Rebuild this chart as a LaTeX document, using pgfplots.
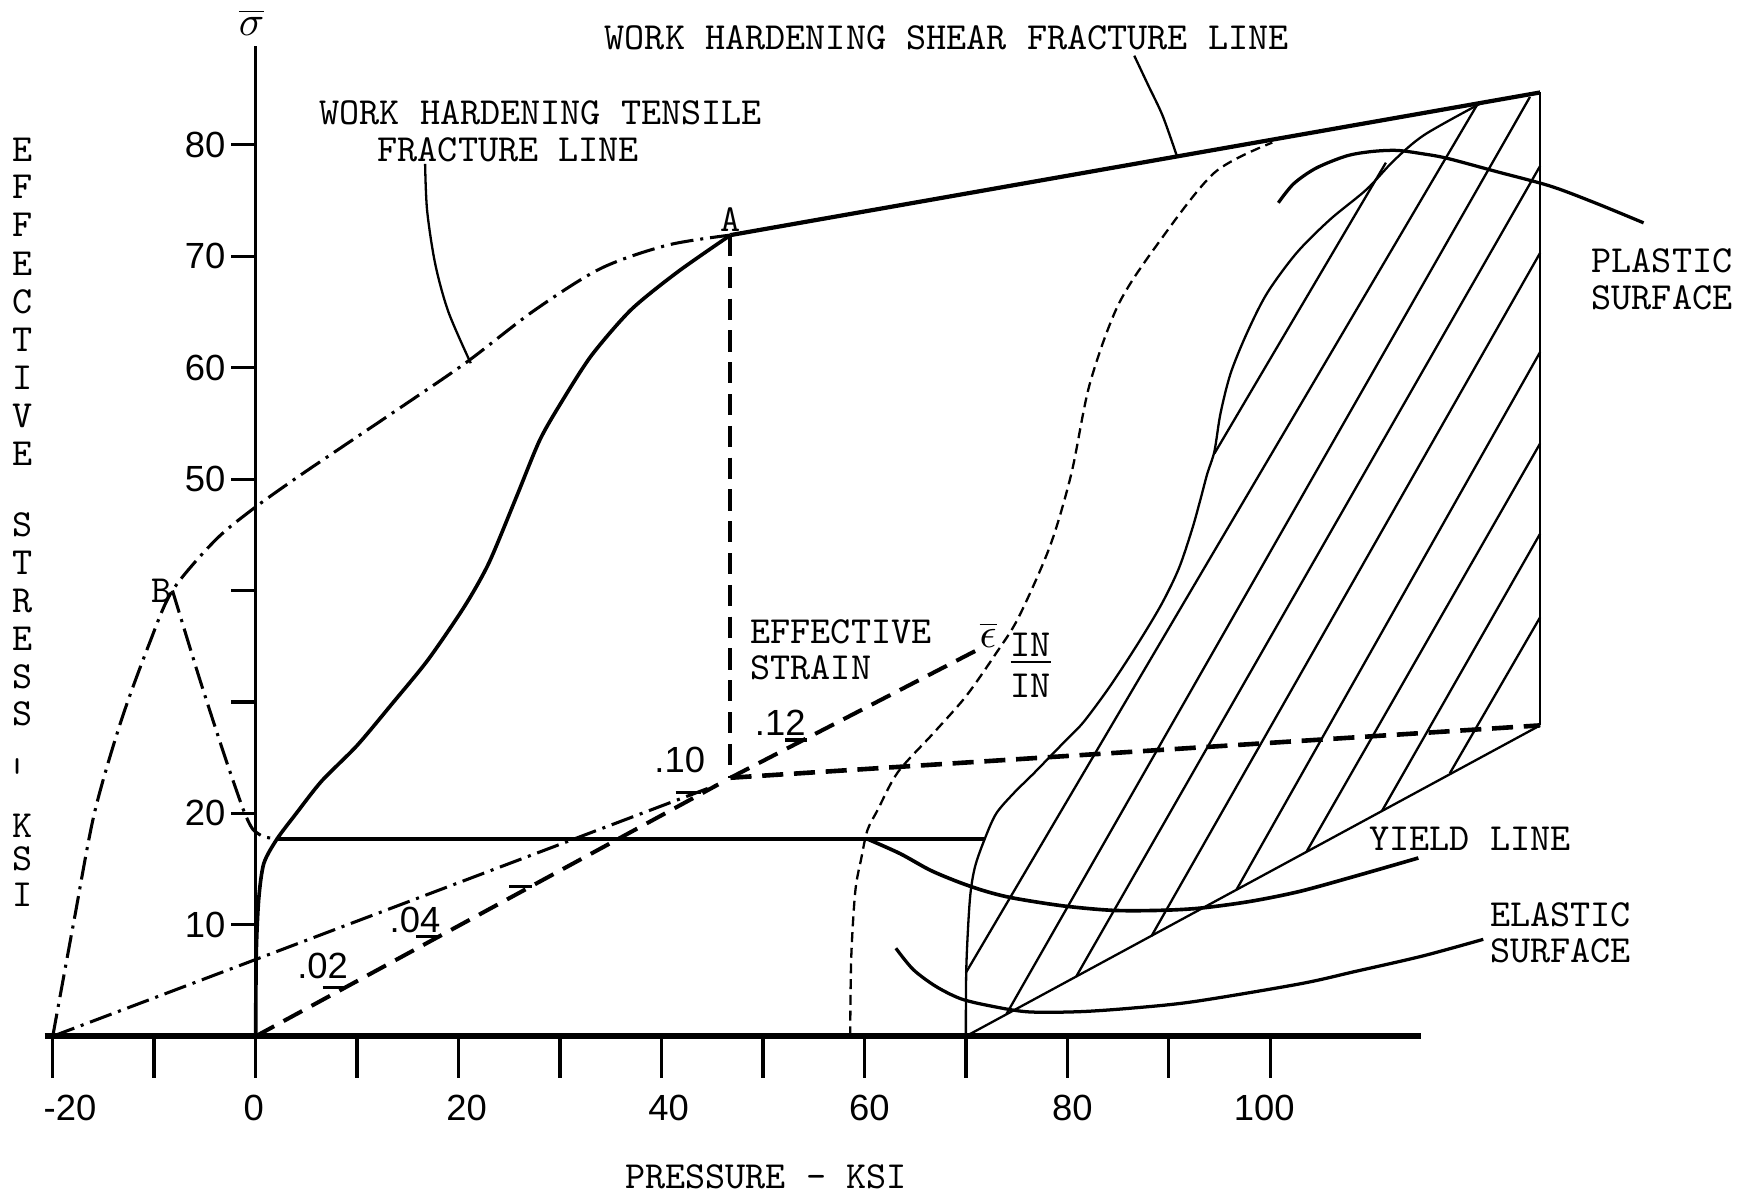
\documentclass[border=0pt]{standalone}
\usepackage{pgfplots}
\pgfplotsset{compat=1.18}
\usepackage{fontspec}
\newfontfamily\lsans{Liberation Sans}
\tikzset{
  thickline/.style={line width=0.95pt},
  thinline/.style={line width=0.6pt},
  longdash/.style={line width=1.05pt, dash pattern=on 5.5pt off 2.8pt},
  shortdash/.style={line width=0.6pt, dash pattern=on 2.6pt off 1.5pt},
  dashdot/.style={line width=0.8pt, dash pattern=on 6pt off 1.8pt on 0.8pt off 1.8pt},
  tw/.style={font=\ttfamily\fontsize{10}{10.6}\selectfont, inner sep=0pt},
  nums/.style={font=\lsans\fontsize{9.5}{11}\selectfont, inner sep=0pt},
}
\begin{document}
\begin{tikzpicture}
\begin{axis}[
  width=16cm, height=10.959cm, scale only axis,
  xmin=-25.2, xmax=146.7, ymin=-14.2, ymax=93,
  hide axis, clip=false,
  every axis plot/.append style={black, no markers},
]
% extent
\addplot[draw=none, forget plot] coordinates {(-25.2,-14.2) (146.7,93)};

% baseline and y axis
\addplot[line width=1.6pt] coordinates {(-20.8,0) (114.9,0)};
\addplot[line width=0.8pt] coordinates {(0,0) (0,88.9)};
\pgfplotsinvokeforeach{-20,-10,0,10,20,30,40,50,60,70,80,90,100}{
  \addplot[line width=0.9pt] coordinates {(#1,0) (#1,-3.7)};
}
\pgfplotsinvokeforeach{10,20,30,40,50,60,70,80}{
  \addplot[line width=0.8pt] coordinates {(-2.4,#1) (0,#1)};
}

% hatch lines
\addplot[thinline] coordinates {(70,5.7) (120.4,83.6)};
\addplot[thinline] coordinates {(74,2.0) (125.6,84.3)};
\addplot[thinline] coordinates {(80.9,5.4) (126.6,78.1)};
\addplot[thinline] coordinates {(88.3,9.0) (126.6,70.3)};
\addplot[thinline] coordinates {(96.7,13.2) (126.6,61.4)};
\addplot[thinline] coordinates {(103.6,16.6) (126.6,53.2)};
\addplot[thinline] coordinates {(111.0,20.2) (126.6,45.1)};
\addplot[thinline] coordinates {(117.7,23.6) (126.6,37.6)};
\addplot[thinline] coordinates {(94.5,52.3) (111.4,78.4)};

% lower boundary of hatched region and right vertical
\addplot[thinline] coordinates {(70,0) (126.6,27.9)};
\addplot[thinline] coordinates {(126.6,27.9) (126.6,84.7)};

% S-curve (left boundary of hatched region)
\addplot[thinline, smooth, tension=0.5] coordinates {
 (70,0) (70.05,6.3) (70.4,12.3) (70.9,15.2) (71.9,17.8) (73.0,20.0) (74.7,21.8)
 (76.7,23.6) (78.3,25.1) (79.9,26.6) (81.6,28.2) (84.2,31.4) (87.0,35.3) (89.3,38.8)
 (91.0,42.0) (92.3,45.5) (93.1,48.1) (93.8,50.5) (94.5,52.5) (95.1,55.9) (96.1,59.5)
 (97.7,63.1) (99.7,66.7) (102.6,70.3) (105.9,73.3) (109.5,76.0) (112.2,78.6)
 (115.2,80.9) (120.7,83.7)};

% dashed S-curve
\addplot[shortdash, smooth, tension=0.5] coordinates {
 (58.6,0) (58.7,7) (59.1,13) (59.7,16) (60.3,18.5) (61.3,20.3) (63.3,23.7) (66.8,27.2)
 (70,30.5) (73,34.4) (75.2,37.6) (78.3,44) (80.4,50.5) (82.2,58.5) (85.0,65.6)
 (88.9,71.1) (94.5,77.5) (100.2,80.2)};

% shear fracture line
\addplot[line width=1.1pt] coordinates {(46.8,71.9) (126.6,84.7)};

% long dashed lines
\addplot[longdash] coordinates {(46.8,71.9) (46.8,23.2)};
\addplot[longdash, line width=1.2pt] coordinates {(46.8,23.2) (126.6,27.9)};
\addplot[longdash] coordinates {(0,0) (45.6,22.6)};
\addplot[longdash] coordinates {(46.8,23.2) (71.4,34.8)};

% strain ticks
\addplot[line width=0.9pt] coordinates {(6.6,4.4) (8.8,4.4)};
\addplot[line width=0.9pt] coordinates {(15.8,8.95) (18.1,8.95)};
\addplot[line width=0.9pt] coordinates {(25,13.45) (27.2,13.45)};
\addplot[line width=0.9pt] coordinates {(41.4,21.9) (43.9,21.9)};
\addplot[line width=0.9pt] coordinates {(52.2,26.6) (54.3,26.6)};

% dash-dot lines
\addplot[dashdot] coordinates {(-20,0) (45.6,22.6)};
\addplot[dashdot, smooth, tension=0.5] coordinates {
 (-20,0) (-17.9,10.4) (-15.9,20) (-13.3,28.2) (-10.5,35.2) (-8.2,40) (-4,44.5)
 (-0.3,47.3) (4,50.1) (8.7,53.0) (14.4,56.5) (20.8,60.5) (27.4,65.1) (34,68.9)
 (40.6,71.0) (46.8,71.9)};
\addplot[dashdot, smooth, tension=0.4] coordinates {
 (-8.2,40) (-5.5,32) (-3,25) (-1.2,20.3) (-0.3,18.6) (0.8,17.9) (2,17.75)};

% horizontal line
\addplot[thickline] coordinates {(2.1,17.7) (71.9,17.7)};

% flow curve
\addplot[thickline, smooth, tension=0.45] coordinates {
 (0,0) (0.06,7.5) (0.3,12.3) (0.8,15.5) (2.1,17.7) (4,20) (6.5,22.9) (10,26.1)
 (13.5,29.9) (17,33.8) (20.6,38.6) (23,42.5) (25.7,48.4) (28,53.5) (30.2,57)
 (33.1,61.1) (37,65.2) (41.6,68.6) (46.8,71.9)};

% yield curve
\addplot[thickline, smooth, tension=0.5] coordinates {
 (60.3,17.7) (63.5,16.4) (66.5,14.9) (69.4,13.8) (72,13.0) (74.7,12.4) (79.6,11.7)
 (84.5,11.3) (89.1,11.3) (93.1,11.5) (98,12.1) (102.9,13.0) (108.5,14.4) (114.6,16.0)};

% elastic surface curve
\addplot[line width=0.85pt, smooth, tension=0.5] coordinates {
 (63.1,7.9) (64.8,6.0) (67,4.5) (69.4,3.4) (72,2.8) (76,2.2) (81,2.2) (86,2.5)
 (92.4,3.1) (102.9,4.7) (108.3,5.8) (115,7.2) (121,8.7)};

% plastic surface arc and leader
\addplot[line width=0.85pt, smooth, tension=0.5] coordinates {
 (100.8,74.8) (102.3,76.5) (104.5,77.9) (107.5,79.0) (110,79.4) (112.5,79.5)
 (115,79.2) (117.4,78.8) (122.3,77.6) (127.6,76.3) (132,74.8) (136.8,73.0)};

% leaders
\addplot[thinline, smooth] coordinates {(86.6,88.0) (88.0,85.3) (89.4,82.6) (90.8,79.0)};
\addplot[thinline, smooth] coordinates {(16.7,78.3) (16.9,74.1) (17.7,69.3) (19.0,65.0) (21.2,60.4)};

% ---- text ----
\node[font=\fontsize{11}{11}\selectfont, inner sep=0pt] at (axis cs:-0.4,91.0) {$\overline{\sigma}$};
\node[nums, anchor=east] at (axis cs:-2.9,80) {80};
\node[nums, anchor=east] at (axis cs:-2.9,70) {70};
\node[nums, anchor=east] at (axis cs:-2.9,60) {60};
\node[nums, anchor=east] at (axis cs:-2.9,50) {50};
\node[nums, anchor=east] at (axis cs:-2.9,20) {20};
\node[nums, anchor=east] at (axis cs:-2.9,10) {10};

\node[nums] at (axis cs:-18.3,-6.4) {-20};
\node[nums] at (axis cs:-0.2,-6.4) {0};
\node[nums] at (axis cs:20.8,-6.4) {20};
\node[nums] at (axis cs:40.7,-6.4) {40};
\node[nums] at (axis cs:60.5,-6.4) {60};
\node[nums] at (axis cs:80.5,-6.4) {80};
\node[nums] at (axis cs:99.4,-6.4) {100};

\node[nums] at (axis cs:6.6,6.3) {.02};
\node[nums] at (axis cs:15.7,10.4) {.04};
\node[nums] at (axis cs:41.8,24.8) {.10};
\node[nums] at (axis cs:51.7,28.1) {.12};

\node[tw] at (axis cs:50.3,-12.6) {PRESSURE - KSI};
\node[tw] at (axis cs:68.1,89.6) {WORK HARDENING SHEAR FRACTURE LINE};
\node[tw] at (axis cs:28.1,82.9) {WORK HARDENING TENSILE};
\node[tw] at (axis cs:24.9,79.6) {FRACTURE LINE};
\node[tw, anchor=base] at (axis cs:46.8,72.2) {A};
\node[tw] at (axis cs:-9.3,40.0) {B};
\node[tw, anchor=west] at (axis cs:48.7,36.3) {EFFECTIVE};
\node[tw, anchor=west] at (axis cs:48.7,33.1) {STRAIN};
\node[font=\fontsize{11}{11}\selectfont, inner sep=0pt] at (axis cs:72.2,36.0) {$\overline{\epsilon}$};
\node[tw, align=center] at (axis cs:76.4,33.3) {\underline{IN}\\IN};
\node[tw, anchor=west] at (axis cs:131.6,69.6) {PLASTIC};
\node[tw, anchor=west] at (axis cs:131.6,66.3) {SURFACE};
\node[tw, anchor=west] at (axis cs:109.7,17.7) {YIELD LINE};
\node[tw, anchor=west] at (axis cs:121.6,10.9) {ELASTIC};
\node[tw, anchor=west] at (axis cs:121.6,7.65) {SURFACE};

% vertical axis title
\node[tw] at (axis cs:-23.0,79.6) {E};
\node[tw] at (axis cs:-23.0,76.2) {F};
\node[tw] at (axis cs:-23.0,72.8) {F};
\node[tw] at (axis cs:-23.0,69.3) {E};
\node[tw] at (axis cs:-23.0,65.9) {C};
\node[tw] at (axis cs:-23.0,62.5) {T};
\node[tw] at (axis cs:-23.0,59.1) {I};
\node[tw] at (axis cs:-23.0,55.7) {V};
\node[tw] at (axis cs:-23.0,52.3) {E};
\node[tw] at (axis cs:-23.0,45.9) {S};
\node[tw] at (axis cs:-23.0,42.5) {T};
\node[tw] at (axis cs:-23.0,39.1) {R};
\node[tw] at (axis cs:-23.0,35.7) {E};
\node[tw] at (axis cs:-23.0,32.3) {S};
\node[tw] at (axis cs:-23.0,28.9) {S};
\node[tw, rotate=90] at (axis cs:-23.0,24.2) {-};
\node[tw] at (axis cs:-23.0,18.9) {K};
\node[tw] at (axis cs:-23.0,15.9) {S};
\node[tw] at (axis cs:-23.0,12.7) {I};
\end{axis}
\end{tikzpicture}
\end{document}
